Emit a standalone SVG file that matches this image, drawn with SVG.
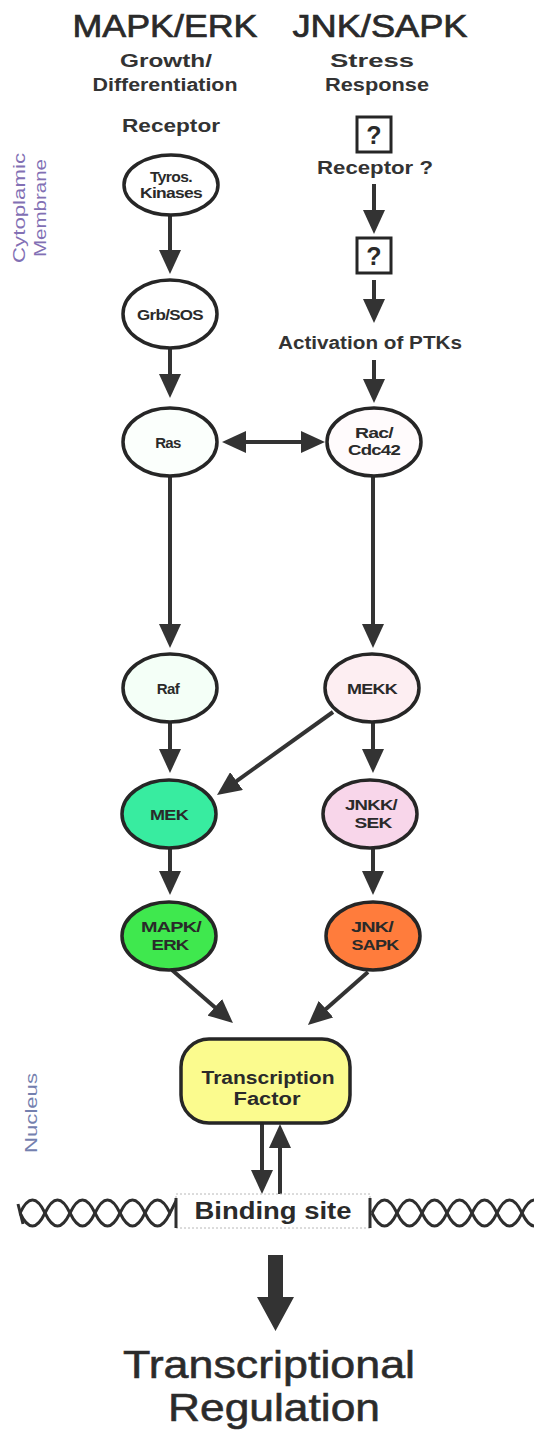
<svg xmlns="http://www.w3.org/2000/svg" width="534" height="1437" viewBox="0 0 534 1437">
<style>
.t{font-family:"Liberation Sans",Arial,sans-serif;fill:#2a2a2a;text-anchor:middle}
.title{font-size:31px;stroke:#2a2a2a;stroke-width:0.7}
.sub{font-size:18px;font-weight:bold;fill:#333}
.n{font-size:15px;font-weight:bold;letter-spacing:-0.6px}
.node{stroke:#262626;stroke-width:3.5}
.c line,.c path{stroke:#333;stroke-width:4;fill:none}
.side{font-family:"Liberation Sans",Arial,sans-serif;text-anchor:middle;font-size:17px}
</style>
<defs>
<marker id="ah" viewBox="0 0 24 22" refX="3" refY="11" markerWidth="24" markerHeight="22" markerUnits="userSpaceOnUse" orient="auto-start-reverse">
<path d="M0,0 L24,11 L0,22 z" fill="#333"/>
</marker>
</defs>
<rect width="534" height="1437" fill="#fff"/>

<g id="headers">
<text class="t title" x="165" y="37" textLength="185" lengthAdjust="spacingAndGlyphs">MAPK/ERK</text>
<text class="t title" x="380" y="37" textLength="175" lengthAdjust="spacingAndGlyphs">JNK/SAPK</text>
<text class="t sub" x="166" y="67" textLength="92" lengthAdjust="spacingAndGlyphs">Growth/</text>
<text class="t sub" x="165" y="91" textLength="145" lengthAdjust="spacingAndGlyphs">Differentiation</text>
<text class="t sub" x="372" y="67" textLength="84" lengthAdjust="spacingAndGlyphs">Stress</text>
<text class="t sub" x="377" y="91" textLength="104" lengthAdjust="spacingAndGlyphs">Response</text>
</g>

<g id="side-labels">
<text class="side" transform="translate(25,208) rotate(-90)" fill="#8270b4" textLength="110" lengthAdjust="spacingAndGlyphs">Cytoplamic</text>
<text class="side" transform="translate(46,208) rotate(-90)" fill="#8270b4" textLength="98" lengthAdjust="spacingAndGlyphs">Membrane</text>
<text class="side" transform="translate(37,1113) rotate(-90)" fill="#7480ae" font-size="20" textLength="80" lengthAdjust="spacingAndGlyphs">Nucleus</text>
</g>

<g id="connectors" class="c">
<line x1="170" y1="215" x2="170" y2="253" marker-end="url(#ah)"/>
<line x1="170" y1="348" x2="170" y2="377" marker-end="url(#ah)"/>
<line x1="243" y1="442" x2="304" y2="442" marker-start="url(#ah)" marker-end="url(#ah)"/>
<line x1="170" y1="476" x2="170" y2="627" marker-end="url(#ah)"/>
<line x1="373" y1="476" x2="373" y2="627" marker-end="url(#ah)"/>
<line x1="170" y1="722" x2="170" y2="752" marker-end="url(#ah)"/>
<line x1="373" y1="722" x2="373" y2="752" marker-end="url(#ah)"/>
<line x1="333" y1="712" x2="234.1" y2="782.8" marker-end="url(#ah)"/>
<line x1="170" y1="848" x2="170" y2="874" marker-end="url(#ah)"/>
<line x1="373" y1="848" x2="373" y2="874" marker-end="url(#ah)"/>
<line x1="172" y1="970" x2="217.1" y2="1009.2" marker-end="url(#ah)"/>
<line x1="368" y1="972" x2="323.7" y2="1011.1" marker-end="url(#ah)"/>
<line x1="374" y1="184" x2="374" y2="213" marker-end="url(#ah)"/>
<line x1="374" y1="280" x2="374" y2="302" marker-end="url(#ah)"/>
<line x1="374" y1="360" x2="374" y2="382" marker-end="url(#ah)"/>
<line x1="262" y1="1123" x2="262" y2="1173" marker-end="url(#ah)"/>
<line x1="280" y1="1194" x2="280" y2="1145" marker-end="url(#ah)"/>
</g>

<g id="receptor-label"><text class="t sub" x="171" y="132" textLength="98" lengthAdjust="spacingAndGlyphs">Receptor</text></g>
<g id="tyros">
<ellipse class="node" cx="171" cy="185" rx="47" ry="30" fill="#fff"/>
<text class="t n" x="171" y="182" textLength="42" lengthAdjust="spacingAndGlyphs">Tyros.</text>
<text class="t n" x="171" y="198" textLength="62" lengthAdjust="spacingAndGlyphs">Kinases</text>
</g>
<g id="grb">
<ellipse class="node" cx="170" cy="314" rx="47" ry="34" fill="#fff"/>
<text class="t n" x="170" y="320" textLength="66" lengthAdjust="spacingAndGlyphs">Grb/SOS</text>
</g>
<g id="ras">
<ellipse class="node" cx="170" cy="442" rx="47" ry="34" fill="#fbfffc"/>
<text class="t n" x="168" y="448" fill="#1f3a2a">Ras</text>
</g>
<g id="raf">
<ellipse class="node" cx="170" cy="688" rx="47" ry="34" fill="#f4fff7"/>
<text class="t n" x="168" y="694" fill="#1f3a2a">Raf</text>
</g>
<g id="mek">
<ellipse class="node" cx="169" cy="814" rx="47" ry="34" fill="#38eca0"/>
<text class="t n" x="169" y="820" textLength="38" lengthAdjust="spacingAndGlyphs">MEK</text>
</g>
<g id="mapk">
<ellipse class="node" cx="169" cy="936" rx="47" ry="34" fill="#3fe84e"/>
<text class="t n" x="171" y="932" textLength="60" lengthAdjust="spacingAndGlyphs">MAPK/</text>
<text class="t n" x="170" y="950" textLength="37" lengthAdjust="spacingAndGlyphs">ERK</text>
</g>

<g id="q1">
<rect x="357" y="117" width="34" height="35" fill="#fff" stroke="#262626" stroke-width="3"/>
<text class="t" x="374" y="144" font-size="25" font-weight="bold" fill="#2d3a2a">?</text>
</g>
<g id="receptor-q"><text class="t sub" x="375" y="174" textLength="116" lengthAdjust="spacingAndGlyphs">Receptor ?</text></g>
<g id="q2">
<rect x="357" y="238" width="34" height="35" fill="#fff" stroke="#262626" stroke-width="3"/>
<text class="t" x="374" y="265" font-size="25" font-weight="bold" fill="#2d3a2a">?</text>
</g>
<g id="ptks"><text class="t sub" x="370" y="349" textLength="184" lengthAdjust="spacingAndGlyphs">Activation of PTKs</text></g>
<g id="rac">
<ellipse class="node" cx="374" cy="442" rx="47" ry="34" fill="#fffbfc"/>
<text class="t n" x="374" y="438" textLength="38" lengthAdjust="spacingAndGlyphs" fill="#3a2228">Rac/</text>
<text class="t n" x="374" y="455" textLength="52" lengthAdjust="spacingAndGlyphs" fill="#3a2228">Cdc42</text>
</g>
<g id="mekk">
<ellipse class="node" cx="372" cy="688" rx="47" ry="34" fill="#fdeef2"/>
<text class="t n" x="372" y="694" textLength="50" lengthAdjust="spacingAndGlyphs" fill="#3a2228">MEKK</text>
</g>
<g id="jnkk">
<ellipse class="node" cx="370" cy="814" rx="47" ry="34" fill="#f8d6ea"/>
<text class="t n" x="371" y="810" textLength="52" lengthAdjust="spacingAndGlyphs">JNKK/</text>
<text class="t n" x="373" y="828" textLength="37" lengthAdjust="spacingAndGlyphs">SEK</text>
</g>
<g id="jnk">
<ellipse class="node" cx="373" cy="936" rx="47" ry="34" fill="#ff7c3c"/>
<text class="t n" x="372" y="932" textLength="42" lengthAdjust="spacingAndGlyphs">JNK/</text>
<text class="t n" x="375" y="950" textLength="47" lengthAdjust="spacingAndGlyphs">SAPK</text>
</g>

<g id="tf">
<rect x="181" y="1039" width="169" height="84" rx="28" fill="#fbfb8e" stroke="#262626" stroke-width="3.5"/>
<text class="t" x="268" y="1084" font-size="18" font-weight="bold" textLength="133" lengthAdjust="spacingAndGlyphs">Transcription</text>
<text class="t" x="267" y="1105" font-size="18" font-weight="bold" textLength="67" lengthAdjust="spacingAndGlyphs">Factor</text>
</g>

<g id="dna" fill="none" stroke="#2e2e2e" stroke-width="3">
<path d="M20,1213 q12.5,-26 25,0 t25,0 t25,0 t25,0 t25,0 t25,0"/>
<path d="M20,1213 q12.5,26 25,0 t25,0 t25,0 t25,0 t25,0 t25,0 l6,-12"/>
<path d="M18,1204 l5,20"/>
<path d="M372,1213 q12.5,-26 25,0 t25,0 t25,0 t25,0 t25,0 t25,0 t25,0"/>
<path d="M372,1213 q12.5,26 25,0 t25,0 t25,0 t25,0 t25,0 t25,0 t25,0"/>
</g>
<g id="binding">
<rect x="176" y="1194" width="194" height="34" fill="#fff" stroke="#b8b8b8" stroke-width="1" stroke-dasharray="2,2"/>
<path d="M176,1198 v30 M370,1198 v30" stroke="#2e2e2e" stroke-width="3"/>
<text class="t" x="273" y="1219" font-size="23" font-weight="bold" fill="#333" textLength="157" lengthAdjust="spacingAndGlyphs">Binding site</text>
</g>

<g id="big-arrow">
<polygon points="268,1255 283,1255 283,1297 294,1297 275.5,1331 257,1297 268,1297" fill="#333"/>
</g>
<g id="result">
<text class="t" x="269" y="1378" font-size="38" fill="#333" stroke="#333" stroke-width="0.6" textLength="292" lengthAdjust="spacingAndGlyphs">Transcriptional</text>
<text class="t" x="274" y="1421" font-size="38" fill="#333" stroke="#333" stroke-width="0.6" textLength="212" lengthAdjust="spacingAndGlyphs">Regulation</text>
</g>
</svg>
